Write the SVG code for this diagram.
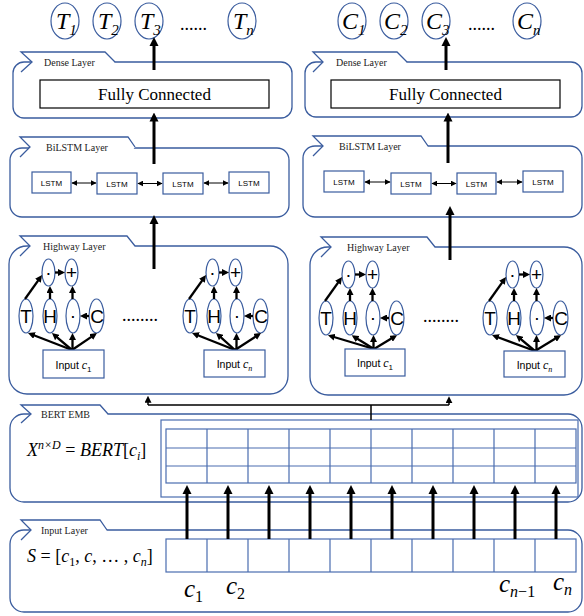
<svg xmlns="http://www.w3.org/2000/svg" width="584" height="616" viewBox="0 0 584 616">
<style>
.bx{fill:#fff;stroke:#3A5C9E;stroke-width:1.3}
.tabf{fill:#fff;stroke:none}
.tabs{fill:none;stroke:#3A5C9E;stroke-width:1.3}
.tl{font-family:"Liberation Serif",serif;font-size:10px;fill:#222}
.el{fill:#fff;stroke:#3A5C9E;stroke-width:1.2}
.g{font-family:"Liberation Sans",Arial,sans-serif;font-size:19px;text-anchor:middle;fill:#000}
.ls{fill:#fff;stroke:#3A5C9E;stroke-width:1.2}
.lt{font-family:"Liberation Sans",Arial,sans-serif;font-size:8px;text-anchor:middle;fill:#000}
.fc{fill:#fff;stroke:#000;stroke-width:1.2}
.fct{font-family:"Liberation Serif",serif;font-size:17px;text-anchor:middle;fill:#000}
.ar3{stroke:#000;stroke-width:3;fill:none;marker-end:url(#mA)}
.ar2{stroke:#000;stroke-width:2.3;fill:none;marker-end:url(#mH)}
.ar1{stroke:#000;stroke-width:1.5;fill:none;marker-end:url(#mS)}
.ln1{stroke:#000;stroke-width:1.5;fill:none}
.lsa{stroke:#000;stroke-width:1;fill:none;marker-start:url(#mL);marker-end:url(#mL)}
.mt{font-family:"Liberation Serif",serif;font-style:italic;fill:#000}
.big{font-family:"Liberation Serif",serif;font-style:italic;font-size:24px;fill:#000}
.dots{font-family:"Liberation Serif",serif;font-size:18px;fill:#000}
.inp{font-family:"Liberation Sans",Arial,sans-serif;font-size:10.5px;text-anchor:middle;fill:#000}
.grid{fill:none;stroke:#4A6DB0;stroke-width:1.2}
</style>
<defs>
<marker id="mA" viewBox="0 0 10 10" refX="5" refY="5" markerWidth="9" markerHeight="10" markerUnits="userSpaceOnUse" orient="auto"><path d="M0,0 L10,5 L0,10 z" fill="#000"/></marker>
<marker id="mH" viewBox="0 0 10 10" refX="6" refY="5" markerWidth="7" markerHeight="7" markerUnits="userSpaceOnUse" orient="auto"><path d="M0,0 L10,5 L0,10 z" fill="#000"/></marker>
<marker id="mS" viewBox="0 0 10 10" refX="6" refY="5" markerWidth="7" markerHeight="7" markerUnits="userSpaceOnUse" orient="auto"><path d="M0,0 L10,5 L0,10 z" fill="#000"/></marker>
<marker id="mL" viewBox="0 0 10 10" refX="9" refY="5" markerWidth="6" markerHeight="6" markerUnits="userSpaceOnUse" orient="auto-start-reverse"><path d="M0,0 L10,5 L0,10 z" fill="#000"/></marker>
</defs>
<rect width="584" height="616" fill="#fff"/>

<!-- Output labels -->
<g id="outT">
<ellipse class="el" cx="65" cy="21" rx="14" ry="18"/>
<text class="big" x="56" y="29">T<tspan font-size="15" dy="6">1</tspan></text>
<ellipse class="el" cx="107" cy="21" rx="14" ry="18"/>
<text class="big" x="98" y="29">T<tspan font-size="15" dy="6">2</tspan></text>
<ellipse class="el" cx="149" cy="21" rx="14" ry="18"/>
<text class="big" x="140" y="29">T<tspan font-size="15" dy="6">3</tspan></text>
<text class="dots" x="180" y="30">......</text>
<ellipse class="el" cx="242" cy="21" rx="14" ry="18"/>
<text class="big" x="233" y="29">T<tspan font-size="15" dy="6">n</tspan></text>
</g>
<g id="outC">
<ellipse class="el" cx="352" cy="21" rx="14" ry="18"/>
<text class="big" x="342" y="29">C<tspan font-size="15" dy="6">1</tspan></text>
<ellipse class="el" cx="394" cy="21" rx="14" ry="18"/>
<text class="big" x="384" y="29">C<tspan font-size="15" dy="6">2</tspan></text>
<ellipse class="el" cx="436" cy="21" rx="14" ry="18"/>
<text class="big" x="426" y="29">C<tspan font-size="15" dy="6">3</tspan></text>
<text class="dots" x="468" y="30">......</text>
<ellipse class="el" cx="527" cy="21" rx="14" ry="18"/>
<text class="big" x="517" y="29">C<tspan font-size="15" dy="6">n</tspan></text>
</g>

<!-- Dense layers -->
<g id="denseL">
<rect class="bx" x="13" y="62" width="279" height="56" rx="11"/>
<polygon class="tabf" points="21,52 105,52 115,62 105,72 21,72 32,62"/>
<path class="tabs" d="M21,72 L32,62 L21,52 L105,52 L115,62"/>
<text class="tl" x="44" y="66">Dense Layer</text>
<rect class="fc" x="40" y="80" width="229" height="28"/>
<text class="fct" x="154.5" y="100">Fully Connected</text>
</g>
<g id="denseR">
<rect class="bx" x="305" y="62" width="277" height="55" rx="11"/>
<polygon class="tabf" points="313,52 397,52 407,62 397,72 313,72 323,62"/>
<path class="tabs" d="M313,72 L323,62 L313,52 L397,52 L407,62"/>
<text class="tl" x="336" y="66">Dense Layer</text>
<rect class="fc" x="331" y="80" width="229" height="28"/>
<text class="fct" x="445.5" y="100">Fully Connected</text>
</g>

<!-- BiLSTM layers -->
<g id="bilstmL">
<rect class="bx" x="10" y="148" width="279" height="69" rx="12"/>
<polygon class="tabf" points="20,137 128,137 135,147 128,157 20,157 30,147"/>
<path class="tabs" d="M20,157 L30,147 L20,137 L128,137 L135,147"/>
<text class="tl" x="46" y="151">BiLSTM Layer</text>
<rect class="ls" x="32" y="172" width="39" height="21"/><text class="lt" x="51.5" y="185.5">LSTM</text>
<rect class="ls" x="97" y="173" width="40" height="21"/><text class="lt" x="117" y="186.5">LSTM</text>
<rect class="ls" x="163" y="173" width="40" height="21"/><text class="lt" x="183" y="186.5">LSTM</text>
<rect class="ls" x="229" y="172" width="40" height="21"/><text class="lt" x="249" y="185.5">LSTM</text>
</g>
<g id="bilstmR">
<rect class="bx" x="303" y="146" width="279" height="71" rx="12"/>
<polygon class="tabf" points="313,136 421,136 428,146 421,156 313,156 323,146"/>
<path class="tabs" d="M313,156 L323,146 L313,136 L421,136 L428,146"/>
<text class="tl" x="339" y="150">BiLSTM Layer</text>
<rect class="ls" x="324" y="171" width="40" height="21"/><text class="lt" x="344" y="184.5">LSTM</text>
<rect class="ls" x="391" y="173" width="40" height="21"/><text class="lt" x="411" y="186.5">LSTM</text>
<rect class="ls" x="457" y="173" width="39" height="21"/><text class="lt" x="476.5" y="186.5">LSTM</text>
<rect class="ls" x="523" y="171" width="40" height="21"/><text class="lt" x="543" y="184.5">LSTM</text>
</g>

<!-- Highway layers -->
<g id="highwayL">
<rect class="bx" x="9" y="246" width="279" height="148" rx="18"/>
<polygon class="tabf" points="20,236 127,236 135,246 127,256 20,256 30,246"/>
<path class="tabs" d="M20,256 L30,246 L20,236 L127,236 L135,246"/>
<text class="tl" x="43" y="250" font-size="11">Highway Layer</text>
<text class="dots" x="122" y="321" font-size="20">........</text>
</g>
<g id="highwayR">
<rect class="bx" x="310" y="247" width="272" height="148" rx="18"/>
<polygon class="tabf" points="321,237 427,237 435,247 427,257 321,257 331,247"/>
<path class="tabs" d="M321,257 L331,247 L321,237 L427,237 L435,247"/>
<text class="tl" x="347" y="251">Highway Layer</text>
<text class="dots" x="423" y="322" font-size="20">........</text>
</g>

<g id="gateL1">
<ellipse class="el" cx="48.5" cy="272.5" rx="6.5" ry="13.5"/><text class="g" x="48.5" y="278.5">·</text>
<ellipse class="el" cx="71.5" cy="272.5" rx="6.5" ry="13.5"/><text class="g" x="71.5" y="279" font-size="18">+</text>
<ellipse class="el" cx="26" cy="316" rx="7" ry="17"/><text class="g" x="26" y="323">T</text>
<ellipse class="el" cx="50" cy="316" rx="7" ry="17"/><text class="g" x="50" y="323">H</text>
<ellipse class="el" cx="73" cy="316" rx="7" ry="17"/><text class="g" x="73" y="322">·</text>
<ellipse class="el" cx="96.5" cy="316" rx="7.5" ry="17"/><text class="g" x="97" y="323">C</text>
<path class="ar2" d="M25,299 L40.4,277.3"/>
<path class="ar2" d="M50,299 V288.8"/>
<path class="ar2" d="M72.5,299 V288.8"/>
<path class="ar2" d="M55,272.5 H62.2"/>
<path class="ar2" d="M89,316 H82.8"/>
<path class="ar2" d="M72,350 L30.6,334"/>
<path class="ar2" d="M72,350 L54.1,334.8"/>
<path class="ar2" d="M72.5,350 V335.8"/>
<path class="ar2" d="M72,350 L94.7,334.6"/>
<rect class="ls" x="43" y="350" width="61" height="28"/>
<text class="inp" x="73.5" y="369">Input <tspan class="mt" font-size="12">c</tspan><tspan font-size="8" dy="3">1</tspan></text>
</g>
<g id="gateL2" transform="translate(164,0)">
<ellipse class="el" cx="48.5" cy="272.5" rx="6.5" ry="13.5"/><text class="g" x="48.5" y="278.5">·</text>
<ellipse class="el" cx="71.5" cy="272.5" rx="6.5" ry="13.5"/><text class="g" x="71.5" y="279" font-size="18">+</text>
<ellipse class="el" cx="26" cy="316" rx="7" ry="17"/><text class="g" x="26" y="323">T</text>
<ellipse class="el" cx="50" cy="316" rx="7" ry="17"/><text class="g" x="50" y="323">H</text>
<ellipse class="el" cx="73" cy="316" rx="7" ry="17"/><text class="g" x="73" y="322">·</text>
<ellipse class="el" cx="96.5" cy="316" rx="7.5" ry="17"/><text class="g" x="97" y="323">C</text>
<path class="ar2" d="M25,299 L40.4,277.3"/>
<path class="ar2" d="M50,299 V288.8"/>
<path class="ar2" d="M72.5,299 V288.8"/>
<path class="ar2" d="M55,272.5 H62.2"/>
<path class="ar2" d="M89,316 H82.8"/>
<path class="ar2" d="M71,350 L30.6,334"/>
<path class="ar2" d="M71,350 L54.1,334.8"/>
<path class="ar2" d="M72.5,350 V335.8"/>
<path class="ar2" d="M71,350 L94.7,334.6"/>
<rect class="ls" x="40" y="350" width="61" height="27"/>
<text class="inp" x="70.5" y="368">Input <tspan class="mt" font-size="12">c</tspan><tspan class="mt" font-size="8" dy="3">n</tspan></text>
</g>
<g id="gateR1" transform="translate(300,2)">
<ellipse class="el" cx="48.5" cy="272.5" rx="6.5" ry="13.5"/><text class="g" x="48.5" y="278.5">·</text>
<ellipse class="el" cx="72.5" cy="272.5" rx="6.5" ry="13.5"/><text class="g" x="72.5" y="279" font-size="18">+</text>
<ellipse class="el" cx="26" cy="316" rx="7" ry="17"/><text class="g" x="26" y="323">T</text>
<ellipse class="el" cx="50" cy="316" rx="7" ry="17"/><text class="g" x="50" y="323">H</text>
<ellipse class="el" cx="73" cy="316" rx="7" ry="17"/><text class="g" x="73" y="322">·</text>
<ellipse class="el" cx="96.5" cy="316" rx="7.5" ry="17"/><text class="g" x="97" y="323">C</text>
<path class="ar2" d="M25,299 L40.4,277.3"/>
<path class="ar2" d="M50,299 V288.8"/>
<path class="ar2" d="M72.5,299 V288.8"/>
<path class="ar2" d="M55,272.5 H63.2"/>
<path class="ar2" d="M89,316 H82.8"/>
<path class="ar2" d="M74,347 L30.6,334"/>
<path class="ar2" d="M74,347 L54.1,334.8"/>
<path class="ar2" d="M73.5,347 V335.8"/>
<path class="ar2" d="M74,347 L94.7,334.6"/>
<rect class="ls" x="45" y="347" width="60" height="27"/>
<text class="inp" x="75" y="365">Input <tspan class="mt" font-size="12">c</tspan><tspan font-size="8" dy="3">1</tspan></text>
</g>
<g id="gateR2" transform="translate(464,2)">
<ellipse class="el" cx="48.5" cy="272.5" rx="6.5" ry="13.5"/><text class="g" x="48.5" y="278.5">·</text>
<ellipse class="el" cx="72.5" cy="272.5" rx="6.5" ry="13.5"/><text class="g" x="72.5" y="279" font-size="18">+</text>
<ellipse class="el" cx="26" cy="316" rx="7" ry="17"/><text class="g" x="26" y="323">T</text>
<ellipse class="el" cx="50" cy="316" rx="7" ry="17"/><text class="g" x="50" y="323">H</text>
<ellipse class="el" cx="73" cy="316" rx="7" ry="17"/><text class="g" x="73" y="322">·</text>
<ellipse class="el" cx="96.5" cy="316" rx="7.5" ry="17"/><text class="g" x="97" y="323">C</text>
<path class="ar2" d="M25,299 L40.4,277.3"/>
<path class="ar2" d="M50,299 V288.8"/>
<path class="ar2" d="M72.5,299 V288.8"/>
<path class="ar2" d="M55,272.5 H63.2"/>
<path class="ar2" d="M89,316 H82.8"/>
<path class="ar2" d="M71,349 L30.6,334"/>
<path class="ar2" d="M71,349 L54.1,334.8"/>
<path class="ar2" d="M72.5,349 V335.8"/>
<path class="ar2" d="M71,349 L94.7,334.6"/>
<rect class="ls" x="40" y="349" width="61" height="26"/>
<text class="inp" x="70.5" y="366.5">Input <tspan class="mt" font-size="12">c</tspan><tspan class="mt" font-size="8" dy="3">n</tspan></text>
</g>

<!-- BERT EMB -->
<g id="bert">
<rect class="bx" x="10" y="414" width="572" height="88" rx="14"/>
<polygon class="tabf" points="21,405 100,405 108,414 100,423 21,423 31,414"/>
<path class="tabs" d="M21,423 L31,414 L21,405 L100,405 L108,414"/>
<text class="tl" x="41" y="418">BERT EMB</text>
<text class="mt" x="27" y="456" font-size="18">X<tspan font-size="12" dy="-7">n×D</tspan><tspan dy="7" font-style="normal"> = </tspan>BERT<tspan font-style="normal">[</tspan>c<tspan font-size="12" dy="4">i</tspan><tspan dy="-4" font-style="normal">]</tspan></text>
<rect class="grid" x="161" y="420" width="417" height="77"/>
<rect class="grid" x="166" y="429" width="410" height="54"/>
<path class="grid" d="M166,448 H576 M166,466 H576 M207,429 V483 M248,429 V483 M289,429 V483 M330,429 V483 M371,429 V483 M412,429 V483 M453,429 V483 M494,429 V483 M535,429 V483"/>
</g>

<!-- Input layer -->
<g id="input">
<rect class="bx" x="10" y="530" width="572" height="82" rx="14"/>
<polygon class="tabf" points="21,520 100,520 107,530 100,540 21,540 31,530"/>
<path class="tabs" d="M21,540 L31,530 L21,520 L100,520 L107,530"/>
<text class="tl" x="41" y="534">Input Layer</text>
<text class="mt" x="27" y="562" font-size="18">S<tspan font-style="normal"> = [</tspan>c<tspan font-size="12" dy="4" font-style="normal">1</tspan><tspan dy="-4" font-style="normal">, </tspan>c<tspan font-style="normal">,  … , </tspan>c<tspan font-size="12" dy="4">n</tspan><tspan dy="-4" font-style="normal">]</tspan></text>
<rect class="grid" x="166" y="539" width="410" height="33"/>
<path class="grid" d="M207,539 V572 M248,539 V572 M289,539 V572 M330,539 V572 M371,539 V572 M412,539 V572 M453,539 V572 M494,539 V572 M535,539 V572"/>
<text class="mt" x="184" y="597" font-size="25">c<tspan font-size="16" dy="5" font-style="normal">1</tspan></text>
<text class="mt" x="226" y="594" font-size="25">c<tspan font-size="16" dy="5" font-style="normal">2</tspan></text>
<text class="mt" x="499" y="592" font-size="25">c<tspan font-size="16" dy="5">n<tspan font-style="normal">−1</tspan></tspan></text>
<text class="mt" x="553" y="590" font-size="25">c<tspan font-size="16" dy="5">n</tspan></text>
</g>

<!-- Connectors -->
<g id="connectors">
<path class="ar3" d="M154,70 V41.5"/>
<path class="ar3" d="M446,70 V41.5"/>
<path class="ar3" d="M154,164 V117"/>
<path class="ar3" d="M448,163 V117"/>
<path class="ar3" d="M154,269 V219.5"/>
<path class="ar3" d="M450,260 V210.5"/>
<path class="lsa" d="M72,183 H96"/>
<path class="lsa" d="M138,183.5 H162"/>
<path class="lsa" d="M204,183 H228"/>
<path class="lsa" d="M365,182 H390"/>
<path class="lsa" d="M432,183.5 H456"/>
<path class="lsa" d="M497,182 H522"/>
<path class="ln1" d="M148,405 H449 M371,405 V420"/>
<path class="ar1" d="M148,405 V398.5"/>
<path class="ar1" d="M449,405 V399"/>
<path class="ar3" d="M187,539 V489.5"/>
<path class="ar3" d="M228,539 V489.5"/>
<path class="ar3" d="M269,539 V489.5"/>
<path class="ar3" d="M310,539 V489.5"/>
<path class="ar3" d="M351,539 V489.5"/>
<path class="ar3" d="M392,539 V489.5"/>
<path class="ar3" d="M433,539 V489.5"/>
<path class="ar3" d="M474,539 V489.5"/>
<path class="ar3" d="M515,539 V489.5"/>
<path class="ar3" d="M556,539 V489.5"/>
</g>
</svg>
